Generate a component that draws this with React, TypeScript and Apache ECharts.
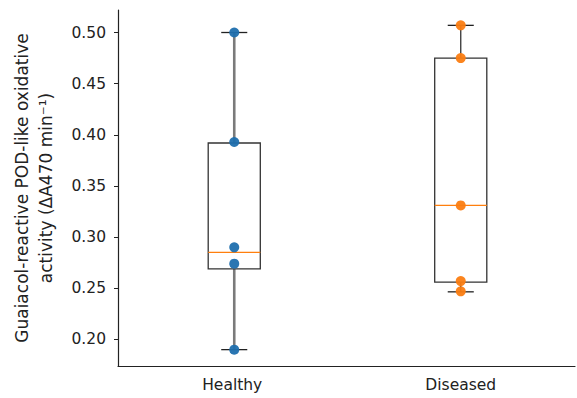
import React, { useEffect, useRef } from "react";
import * as echarts from "echarts";

const categories = ["Healthy", "Diseased"];
// individual measurements (points)
const healthyValues = [0.5, 0.393, 0.29, 0.274, 0.19];
const diseasedValues = [0.507, 0.475, 0.331, 0.257, 0.247];
// box statistics: [min, Q1, median, Q3, max]
const healthyBox = [0.19, 0.269, 0.285, 0.392, 0.5];
const diseasedBox = [0.2465, 0.256, 0.331, 0.475, 0.507];
const yTicks = [0.2, 0.25, 0.3, 0.35, 0.4, 0.45, 0.5];
const yLabel = "Guaiacol-reactive POD-like oxidative\nactivity (ΔA470 min⁻¹)";

const pointColors = ["#1f6fae", "#fb7d12"];
const whiskerColors = ["#7a7a7a", "#333333"];
const whiskerWidths = [2.6, 1.3];

export default function App() {
  const ref = useRef<HTMLDivElement>(null);
  useEffect(() => {
    const chart = echarts.init(ref.current!, null, { renderer: "svg" });
    const groups = [healthyValues, diseasedValues];
    const boxes = [healthyBox, diseasedBox];
    const boxData = boxes.map((b, i) => [i, ...b]);
    const font = "DejaVu Sans";
    chart.setOption({
      animation: false,
      backgroundColor: "#ffffff",
      grid: { left: 118, right: 2, top: 10, bottom: 32 },
      xAxis: {
        type: "category",
        data: categories,
        boundaryGap: true,
        axisLine: { lineStyle: { color: "#222", width: 1.2 } },
        axisTick: { alignWithLabel: true, length: 4, lineStyle: { color: "#222" } },
        axisLabel: { color: "#222", fontSize: 15.5, fontFamily: font, margin: 11 },
        splitLine: { show: false },
      },
      yAxis: {
        type: "value",
        min: 0.174,
        max: 0.522,
        name: yLabel,
        nameLocation: "middle",
        nameGap: 60,
        nameTextStyle: { color: "#222", fontSize: 17, fontFamily: font, lineHeight: 24, align: "center" },
        axisLine: { show: true, lineStyle: { color: "#222", width: 1.2 } },
        axisTick: { show: true, length: 4, customValues: yTicks, lineStyle: { color: "#222" } },
        axisLabel: {
          color: "#222",
          fontSize: 15.5,
          fontFamily: font,
          margin: 12,
          customValues: yTicks,
          formatter: (v: number) => v.toFixed(2),
        },
        splitLine: { show: false },
      },
      series: [
        {
          type: "custom",
          z: 2,
          data: boxData,
          encode: { x: 0, y: [1, 2, 3, 4, 5] },
          renderItem: (params: any, api: any) => {
            const idx = api.value(0);
            const mn = api.value(1), q1 = api.value(2), md = api.value(3), q3 = api.value(4), mx = api.value(5);
            const band = api.size([1, 0])[0];
            const bw = band * 0.228;
            const cw = bw / 2;
            const [cx0, yq3] = api.coord([idx, q3]);
            const cx = cx0 + (idx === 0 ? 2 : 0);
            const yq1 = api.coord([idx, q1])[1];
            const ymd = api.coord([idx, md])[1];
            const ymn = api.coord([idx, mn])[1];
            const ymx = api.coord([idx, mx])[1];
            const wStyle = { stroke: whiskerColors[idx], lineWidth: whiskerWidths[idx] };
            const capStyle = { stroke: "#222", lineWidth: 1.3 };
            return {
              type: "group",
              children: [
                { type: "line", shape: { x1: cx, y1: yq3, x2: cx, y2: ymx }, style: wStyle },
                { type: "line", shape: { x1: cx, y1: yq1, x2: cx, y2: ymn }, style: wStyle },
                { type: "line", shape: { x1: cx - cw / 2, y1: ymx, x2: cx + cw / 2, y2: ymx }, style: capStyle },
                { type: "line", shape: { x1: cx - cw / 2, y1: ymn, x2: cx + cw / 2, y2: ymn }, style: capStyle },
                {
                  type: "rect",
                  shape: { x: cx - bw / 2, y: yq3, width: bw, height: yq1 - yq3 },
                  style: { fill: "none", stroke: "#333", lineWidth: 1.3 },
                },
                {
                  type: "line",
                  shape: { x1: cx - bw / 2, y1: ymd, x2: cx + bw / 2, y2: ymd },
                  style: { stroke: "#ff7f0e", lineWidth: 1.2 },
                },
              ],
            };
          },
        },
        ...groups.map((g, i) => ({
          type: "scatter",
          z: 5,
          symbol: "circle",
          symbolSize: 10,
          symbolOffset: [i === 0 ? 2 : 0, 0],
          itemStyle: { color: pointColors[i], opacity: 0.95 },
          data: g.map((v) => [i, v]),
        })),
      ],
    });
    return () => chart.dispose();
  }, []);
  return <div ref={ref} style={{ position: "fixed", left: 0, top: 0, width: 577, height: 398 }} />;
}
